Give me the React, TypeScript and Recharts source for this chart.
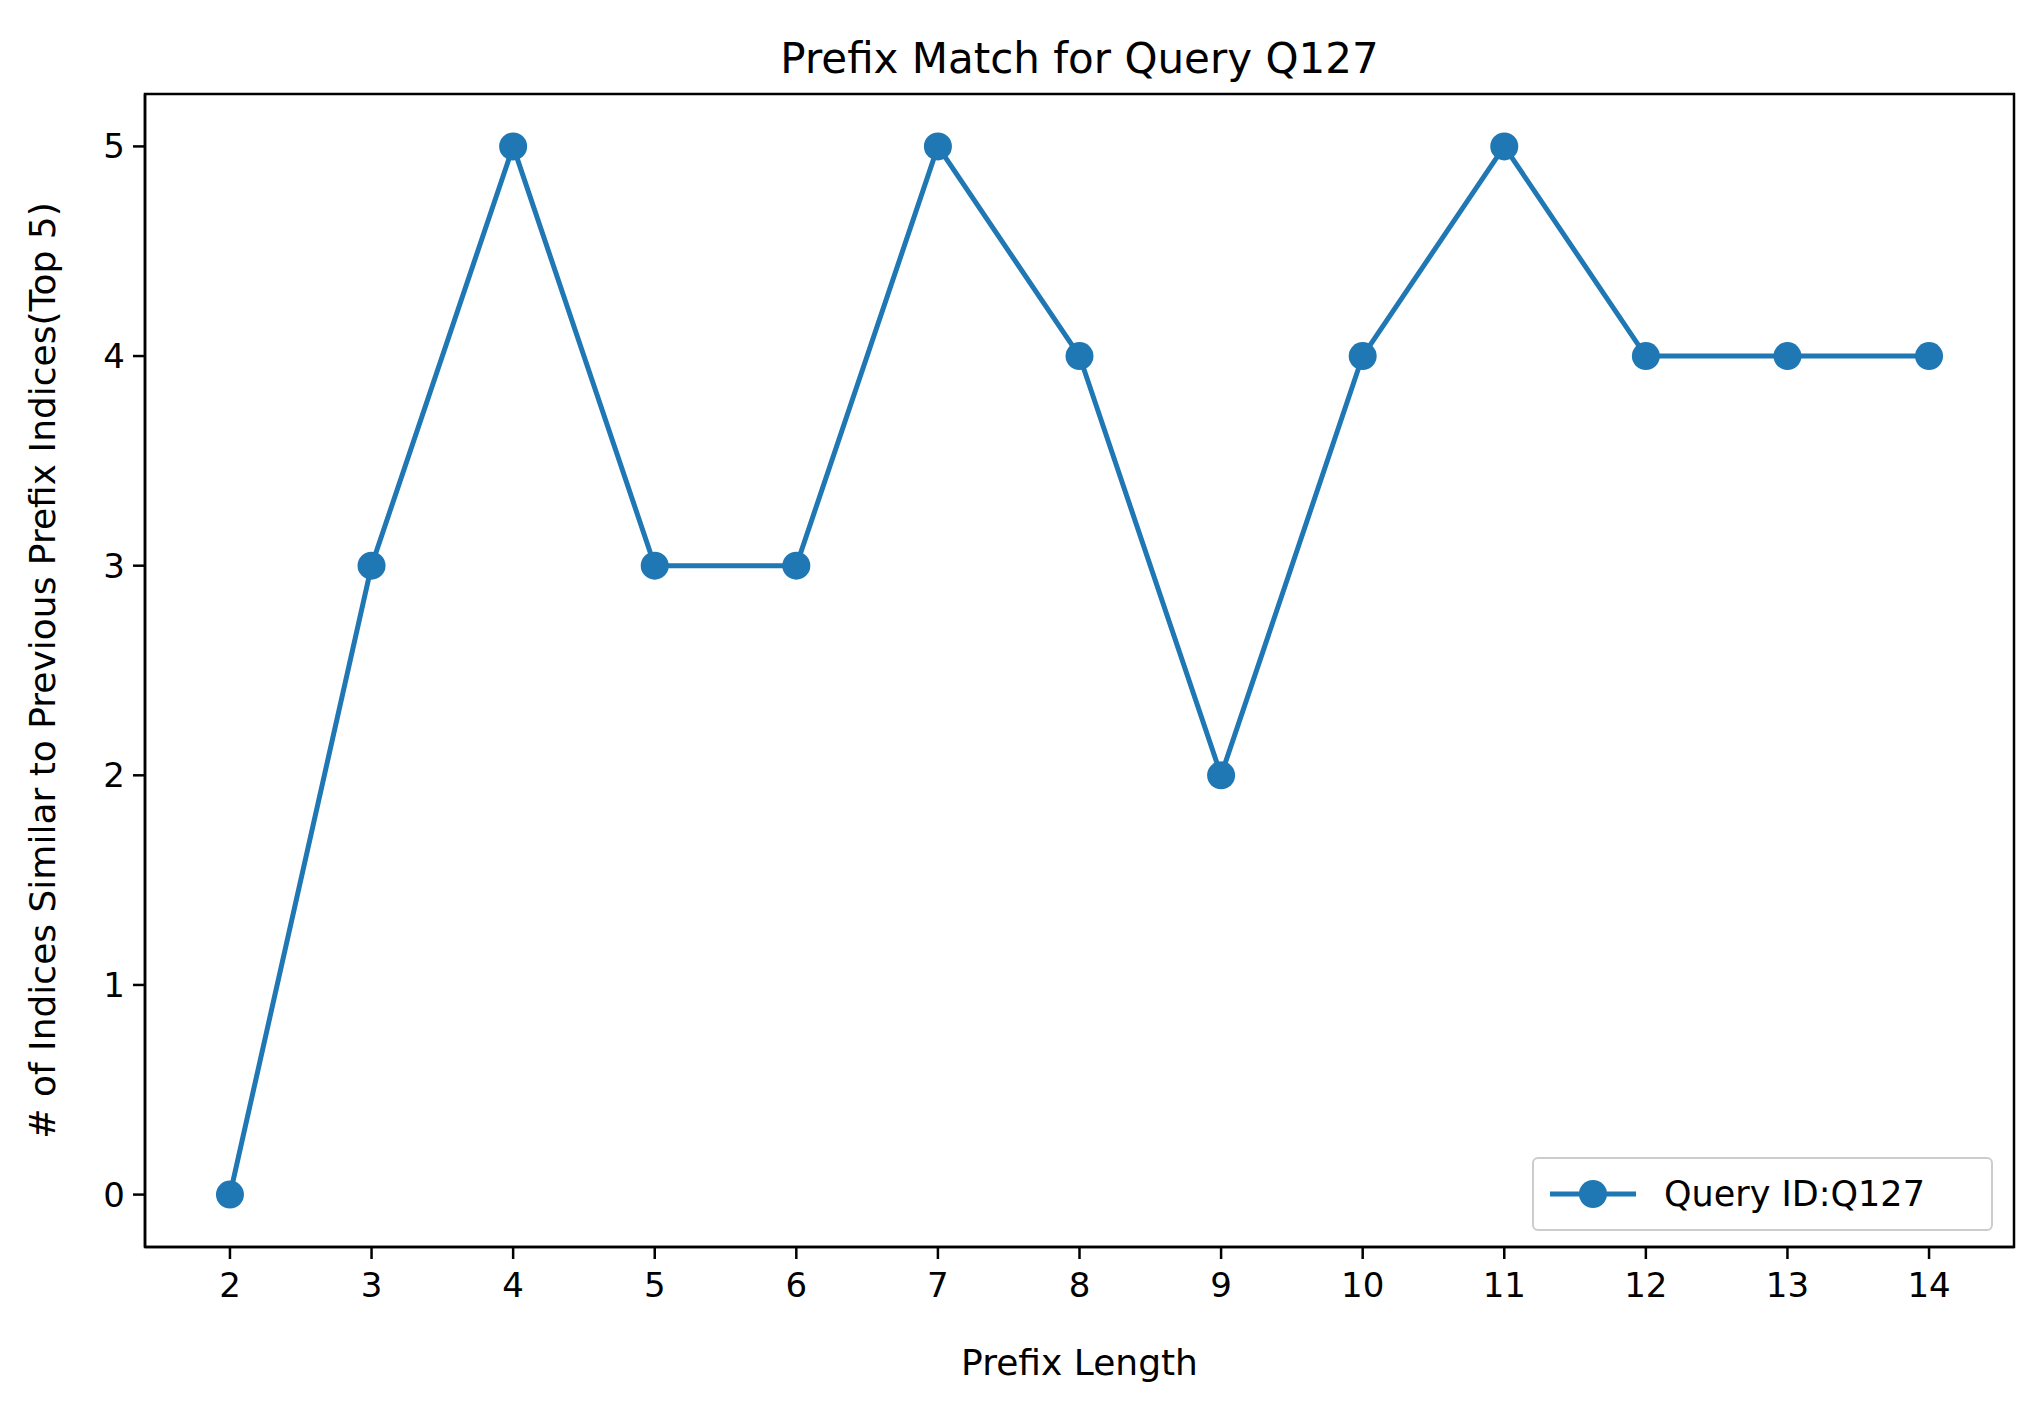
import { LineChart, Line, XAxis, YAxis, Label } from "recharts";

const prefixLengths = [2, 3, 4, 5, 6, 7, 8, 9, 10, 11, 12, 13, 14];
const matchCounts = [0, 3, 5, 3, 3, 5, 4, 2, 4, 5, 4, 4, 4];
const yTicks = [0, 1, 2, 3, 4, 5];

const data = prefixLengths.map((p, i) => ({ prefix: p, count: matchCounts[i] }));

const COLOR = "#1f77b4";
const FONT = "DejaVu Sans, sans-serif";

function LegendBox() {
  return (
    <div
      style={{
        position: "absolute",
        left: 1532 - 8,
        top: 1157 - 8,
        width: 461,
        height: 74,
        boxSizing: "border-box",
        border: "2px solid #cccccc",
        borderRadius: 6,
        background: "#fff",
        padding: "0 14px",
        display: "flex",
        alignItems: "center",
        fontSize: 35,
        color: "#000",
      }}
    >
      <svg width={90} height={30} style={{ marginRight: 26 }}>
        <line x1={2} y1={15} x2={88} y2={15} stroke={COLOR} strokeWidth={5} />
        <circle cx={45} cy={15} r={14} fill={COLOR} />
      </svg>
      Query ID:Q127
    </div>
  );
}

export default function App() {
  return (
    <div style={{ position: "relative", width: 2018, height: 1391, fontFamily: FONT }}>
      <div
        style={{
          position: "absolute",
          top: 26,
          left: 137,
          width: 2014 - 145,
          textAlign: "center",
          fontSize: 42,
        }}
      >
        Prefix Match for Query Q127
      </div>
      <LineChart
        width={2018}
        height={1391}
        data={data}
        margin={{ top: 86, right: 12, left: 0, bottom: 0 }}
      >
        <XAxis
          dataKey="prefix"
          type="number"
          domain={[1.4, 14.6]}
          ticks={prefixLengths}
          interval={0}
          stroke="#000"
          strokeWidth={2.5}
          tickSize={12}
          tick={{ fill: "#000", fontSize: 34, fontFamily: FONT, dy: 12 }}
          height={152}
        >
          <Label
            value="Prefix Length"
            position="insideBottom"
            offset={24}
            style={{ fill: "#000", fontSize: 36, fontFamily: FONT }}
          />
        </XAxis>
        <YAxis
          type="number"
          domain={[-0.25, 5.25]}
          ticks={yTicks}
          stroke="#000"
          strokeWidth={2.5}
          tickSize={12}
          tick={{ fill: "#000", fontSize: 34, fontFamily: FONT, dx: -6 }}
          width={137}
        >
          <Label
            value="# of Indices Similar to Previous Prefix Indices(Top 5)"
            angle={-90}
            position="insideLeft"
            offset={34}
            style={{ fill: "#000", fontSize: 36, fontFamily: FONT, textAnchor: "middle" }}
          />
        </YAxis>
        <Line
          dataKey="count"
          stroke={COLOR}
          strokeWidth={5}
          dot={{ r: 14, fill: COLOR, stroke: COLOR, strokeWidth: 0 }}
          isAnimationActive={false}
        />
      </LineChart>
      <svg style={{ position: "absolute", left: 0, top: 0, pointerEvents: "none" }} width={2018} height={1391}>
        <rect x={137} y={86} width={2014 - 145} height={1247 - 94} fill="none" stroke="#000" strokeWidth={2.5} />
      </svg>
      <LegendBox />
    </div>
  );
}
